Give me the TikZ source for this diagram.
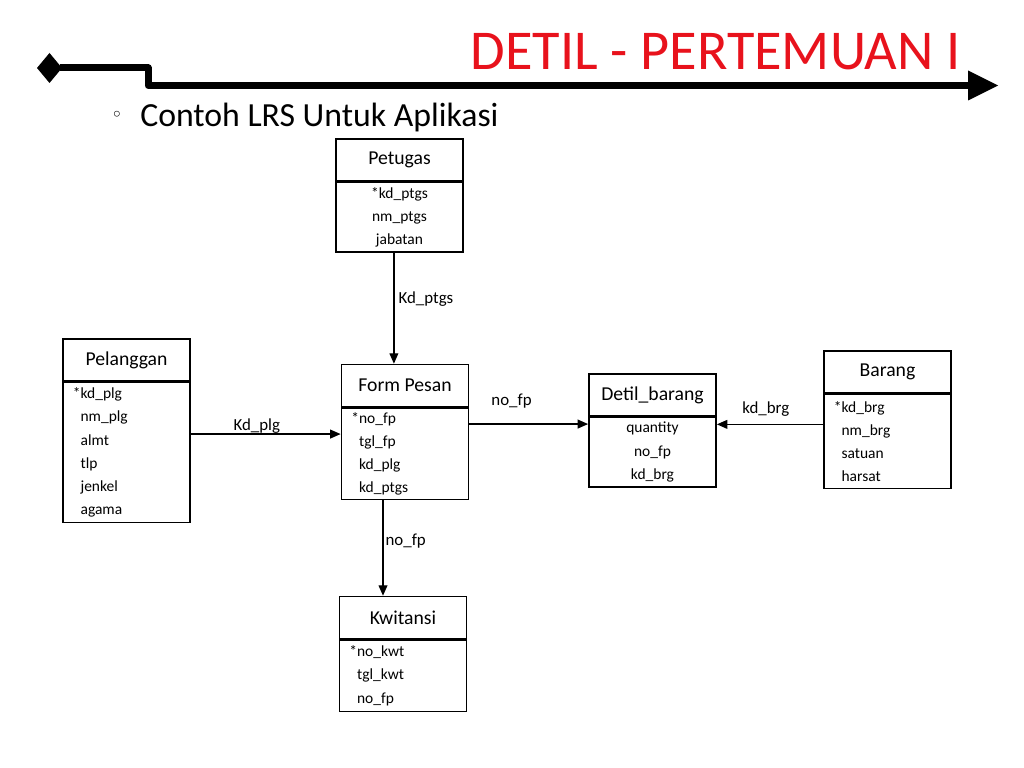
\documentclass[tikz,border=0pt]{standalone}
\usepackage{fontspec}
\setmainfont{Carlito}
\newfontfamily\symfont{DejaVu Sans}
\usetikzlibrary{arrows.meta, positioning, calc}
\definecolor{slidered}{RGB}{232, 18, 28}

\begin{document}
\begin{tikzpicture}[x=0.025cm, y=-0.025cm,
  ehead/.style={draw, line width=1.1pt, minimum width=3.18cm, minimum height=1.05cm, inner sep=0pt, font=\fontsize{14}{16}\selectfont},
  ebody/.style={draw, line width=1.1pt, anchor=north, minimum width=3.18cm, text width=2.68cm, inner xsep=0.25cm, inner ysep=0pt, align=left, font=\fontsize{11}{16.5}\selectfont},
  link/.style={line width=0.9pt, -{Triangle[length=0.26cm, width=0.22cm]}},
  lbl/.style={font=\fontsize{12}{14}\selectfont, inner sep=0pt}
]
  \useasboundingbox (0,0) rectangle (1024,768);

  % slide header
  \fill (37,68) -- (49.5,53) -- (62,68) -- (49.5,83) -- cycle;
  \draw[line width=0.175cm, line join=round] (60,68) -- (148,68) -- (148,85.5) -- (970,85.5);
  \fill (968,70.5) -- (998,85.5) -- (968,100.5) -- cycle;
  \node[anchor=base east, text=slidered, font=\fontsize{40}{48}\selectfont, inner sep=0pt] (title) at (961,70) {DETIL - PERTEMUAN I};
  \node[anchor=base, font=\symfont\fontsize{14}{16}\selectfont, inner sep=0pt] (bullet) at (117,122) {◦};
  \node[anchor=base west, font=\fontsize{24}{28}\selectfont, inner sep=0pt] (subtitle) at (140,127) {Contoh LRS Untuk Aplikasi};

  % entities
  \node[ehead] (petugas) at (399.5,160) {Petugas};
  \node[ebody, align=center, minimum height=1.73cm] (petugas-attr) at (petugas.south) {*kd\_ptgs\\nm\_ptgs\\jabatan};

  \node[ehead] (pelanggan) at (126.5,360) {Pelanggan};
  \node[ebody, minimum height=3.5cm] (pelanggan-attr) at (pelanggan.south) {*kd\_plg\\\phantom{*}nm\_plg\\\phantom{*}almt\\\phantom{*}tlp\\\phantom{*}jenkel\\\phantom{*}agama};

  \node[ehead] (formpesan) at (405,385.5) {Form Pesan};
  \node[ebody, minimum height=2.28cm] (formpesan-attr) at (formpesan.south) {*no\_fp\\\phantom{*}tgl\_fp\\\phantom{*}kd\_plg\\\phantom{*}kd\_ptgs};

  \node[ehead] (detil) at (652.5,395) {Detil\_barang};
  \node[ebody, align=center, minimum height=1.73cm] (detil-attr) at (detil.south) {quantity\\no\_fp\\kd\_brg};

  \node[ehead] (barang) at (887.5,372) {Barang};
  \node[ebody, minimum height=2.35cm] (barang-attr) at (barang.south) {*kd\_brg\\\phantom{*}nm\_brg\\\phantom{*}satuan\\\phantom{*}harsat};

  \node[ehead] (kwitansi) at (403,617.5) {Kwitansi};
  \node[ebody, minimum height=1.78cm] (kwitansi-attr) at (kwitansi.south) {*no\_kwt\\\phantom{*}tgl\_kwt\\\phantom{*}no\_fp};

  % relations
  \coordinate (ptgsout) at ([xshift=-0.14cm]petugas-attr.south);
  \coordinate (plgin) at ([yshift=0.49cm]formpesan-attr.west);
  \coordinate (fpout) at ([yshift=0.74cm]formpesan-attr.east);
  \coordinate (brgout) at ([yshift=0.43cm]barang-attr.west);
  \coordinate (kwtin) at ([xshift=-0.55cm]formpesan-attr.south);

  \draw[link] (ptgsout) -- (ptgsout |- formpesan.north) node[lbl, pos=0.42, right=0.1cm] {Kd\_ptgs};
  \draw[link] (pelanggan-attr.east |- plgin) -- (plgin) node[lbl, pos=0.44, above=0pt] {Kd\_plg};
  \draw[link] (fpout) -- (detil-attr.west |- fpout) node[lbl, pos=0.355, above=0.375cm] {no\_fp};
  \draw[link] (brgout) -- (detil-attr.east |- brgout) node[lbl, pos=0.54, above=0.18cm] {kd\_brg};
  \draw[link] (kwtin) -- (kwtin |- kwitansi.north) node[lbl, pos=0.43, right=0.05cm] {no\_fp};
\end{tikzpicture}
\end{document}
